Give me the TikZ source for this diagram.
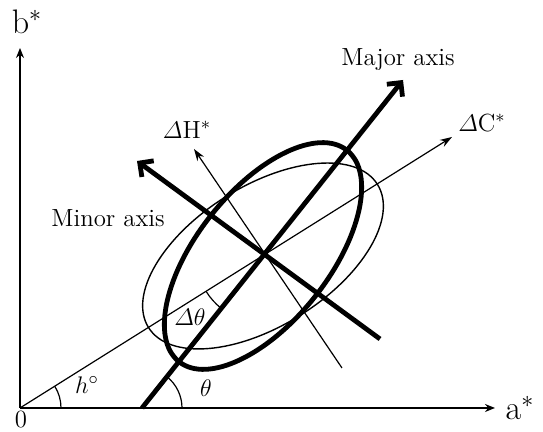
\documentclass[tikz,border=0pt]{standalone}
\usepackage{amsmath}
\usetikzlibrary{arrows.meta}
\begin{document}
\begin{tikzpicture}[x=0.5pt,y=0.5pt]
	% Styles (MODIFIABLES)
	\tikzstyle{axe}=[line width=0.8pt,-{Stealth[length=5pt,width=4pt]}]
	\tikzstyle{fleche}=[line width=0.6pt,-{Stealth[length=6pt,width=4pt]}]
	\tikzstyle{grosse}=[line width=2.4pt,-{Straight Barb[length=5pt,width=10pt]}]
	\tikzstyle{trait}=[line width=2.4pt]
	\tikzstyle{fine}=[line width=0.7pt]
	\tikzstyle{arcangle}=[line width=0.6pt]
	\tikzstyle{commentaire}=[inner sep=0pt,font=\fontsize{12.4}{14}\selectfont]
	\tikzstyle{grand}=[inner sep=0pt,font=\fontsize{17}{19}\selectfont]
	% Dimensions (MODIFIABLES)
	\def\AngleC{32}
	\def\AngleG{51.5}
	\useasboundingbox (0,0) rectangle (543,432);
	% Points
	\coordinate (O) at (20,24);
	\coordinate (C) at (263,176);
	\coordinate (B) at (20,384);
	\coordinate (A) at (495,24);
	\coordinate (Gbase) at (142,24);
	\coordinate (Gtip) at (403,352);
	\coordinate (Ptip) at (137,271);
	\coordinate (Pfin) at (380,93);
	\coordinate (Htip) at (194,283);
	\coordinate (Hfin) at (342,64);
	\coordinate (Ctip) at (452,295);
	% Noeuds
	\node[grand] (b) at (27,410) {b$^{*}$};
	\node[grand] (a) at (520,24) {a$^{*}$};
	\node[commentaire] (zero) at (21,12) {0};
	\node[commentaire] (major) at (398,372) {Major axis};
	\node[commentaire] (minor) at (108,214) {Minor axis};
	\node[commentaire] (dC) at (482,309) {$\varDelta$C$^{*}$};
	\node[commentaire] (dH) at (187,302) {$\varDelta$H$^{*}$};
	\node[commentaire] (h) at (87,47) {$h^{\circ}$};
	\node[commentaire] (t) at (206,44) {$\theta$};
	\node[commentaire] (dt) at (190,115) {$\varDelta\theta$};
	% Axes
	\draw[axe] (O)--(B);
	\draw[axe] (O)--(A);
	\draw[fleche] (O)--(Ctip);
	\draw[fleche] (Hfin)--(Htip);
	% Ellipses
	\draw[fine,rotate around={\AngleC:(C)}] (C) ellipse [x radius=135,y radius=70];
	\draw[trait,rotate around={\AngleG:(C)}] (C) ellipse [x radius=135,y radius=66];
	% Grand et petit axes
	\draw[grosse] (Gbase)--(Gtip);
	\draw[grosse] (Pfin)--(Ptip);
	% Angles
	\draw[arcangle] (O) ++(41,0) arc[start angle=0,end angle=\AngleC,radius=41];
	\draw[arcangle] (Gbase) ++(40,0) arc[start angle=0,end angle=\AngleG,radius=40];
	\draw[arcangle] (C) ++({180+\AngleC}:67) arc[start angle=180+\AngleC,end angle=180+\AngleG,radius=67];
\end{tikzpicture}
\end{document}
